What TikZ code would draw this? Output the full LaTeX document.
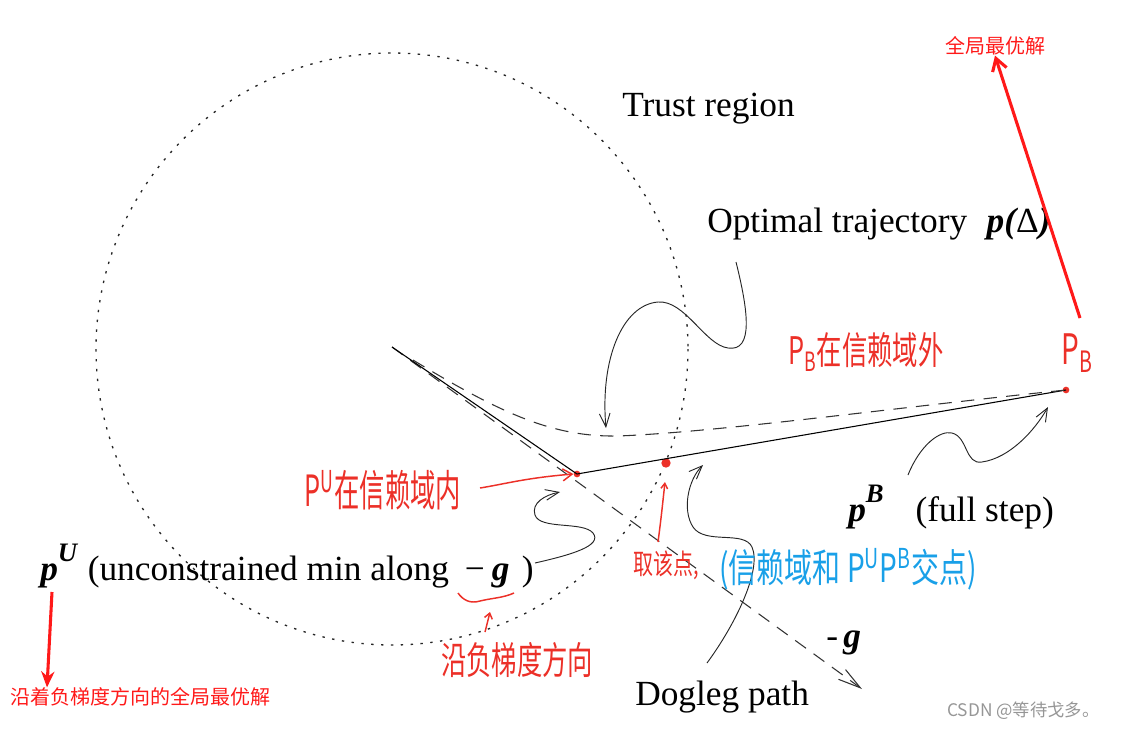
\documentclass[tikz,border=0pt]{standalone}
\usepackage{fontspec}
\setmainfont{Liberation Serif}
\newfontfamily\cjk{Noto Sans CJK SC}
\usetikzlibrary{arrows.meta}
\definecolor{hred}{RGB}{236,48,40}
\definecolor{hblue}{RGB}{25,160,232}
\definecolor{pred}{RGB}{255,25,25}
\definecolor{wmgray}{RGB}{150,150,150}
\newcommand\bip{\bfseries\itshape}
\tikzset{
  txt/.style={font=\fontsize{26.5}{30}\selectfont, inner sep=0pt, anchor=base west},
  hand/.style={font=\cjk\fontsize{19}{22}\selectfont, text=hred, inner sep=0pt},
  handblue/.style={font=\cjk\fontsize{21}{24}\selectfont, text=hblue, inner sep=0pt},
  printred/.style={font=\cjk\fontsize{15}{18}\selectfont, text=pred, inner sep=0pt},
  trustcircle/.style={line width=1pt, dash pattern=on 1.8pt off 5.6pt, black!85},
  pathline/.style={line width=0.8pt, black},
  dashline/.style={line width=0.8pt, black!80, dash pattern=on 10pt off 7pt},
  curvearrow/.style={line width=0.7pt, black!85, -{Straight Barb[length=10pt,width=8pt]}},
  redthick/.style={line width=2.3pt, pred},
  redthin/.style={line width=1.1pt, hred},
  reddot/.style={circle, fill=hred, inner sep=0pt, minimum size=5pt},
}
\begin{document}
\begin{tikzpicture}[x=0.75pt,y=-0.75pt]
\useasboundingbox (0,0) rectangle (1122,729);

% trust region circle
\coordinate (C) at (392,349);
\draw[trustcircle] (C) circle (296);

% key points
\coordinate (S) at (392,347);
\node[reddot] (PU) at (577,474) {};
\node[reddot, minimum width=4.5pt, minimum height=7pt] (X) at (666,463) {};
\node[reddot] (PB) at (1066,390) {};
\coordinate (G) at (862,689);
\coordinate (T0) at (413,360);

% steepest descent direction (-g)
\draw[dashline, -{Straight Barb[length=17pt,width=9pt]}] (S) -- (G);
% dogleg path
\draw[pathline] (S) -- (PU.center) -- (PB.center);
% optimal trajectory
\draw[dashline] (T0) .. controls (505,416) and (555,437) .. (618,436)
  .. controls (720,432) and (900,407) .. (PB.center);

% texts
\node[txt] (trust) at (622,116) {Trust region};
\node[txt] (opt) at (707,232) {Optimal trajectory\hspace{0.55em}{\bip p(}Δ{\bip )}};
\node[txt] (pu) at (40,580) {{\bip p\raisebox{14pt}{\fontsize{20}{20}\selectfont U}}\hspace{0.3em}(unconstrained min along\hspace{0.45em}−\hspace{0.2em}{\bip g}\hspace{0.35em})};
\node[txt] (pb) at (848,521) {{\bip p\raisebox{14pt}{\fontsize{20}{20}\selectfont B}}\hspace{0.9em}(full step)};
\node[txt] (mg) at (826,647) {-\hspace{0.15em}{\bip g}};
\node[txt] (dog) at (635,705) {Dogleg path};

% curved pointer arrows
\coordinate (a1) at (736,262);
\coordinate (a1e) at (606,428);
\draw[curvearrow] (a1) .. controls (748,310) and (754,352) .. (728,348)
  .. controls (705,345) and (685,300) .. (658,302)
  .. controls (622,305) and (600,360) .. (a1e);
\coordinate (a2) at (535,563);
\coordinate (a2e) at (560,492);
\draw[curvearrow] (a2) .. controls (570,555) and (603,546) .. (593,533)
  .. controls (583,521) and (540,530) .. (535,515)
  .. controls (531,503) and (545,495) .. (a2e);
\coordinate (a3) at (707,663);
\coordinate (a3e) at (703,465);
\draw[curvearrow] (a3) .. controls (735,625) and (762,570) .. (752,547)
  .. controls (744,530) and (705,545) .. (693,527)
  .. controls (682,510) and (688,480) .. (a3e);
\coordinate (a4) at (908,475);
\coordinate (a4e) at (1048,407);
\draw[curvearrow] (a4) .. controls (920,445) and (940,430) .. (952,433)
  .. controls (968,437) and (965,465) .. (982,462)
  .. controls (1010,458) and (1035,430) .. (a4e);

% printed red annotations
\node[printred] (glob) at (995,46) {全局最优解};
\node[printred, anchor=west] (globg) at (10,697) {沿着负梯度方向的全局最优解};
\coordinate (r1) at (1080,318);
\draw[redthick, -{Straight Barb[length=9pt,width=11pt,line width=2.3pt]}] (r1) -- (glob.south);
\coordinate (r2) at (52,592);
\draw[redthick, -{Stealth[length=12pt,width=10pt]}] (r2) -- (globg.north -| 47,0);

% handwritten annotations
\node[hand] (hpb) at (866,352) {\scalebox{1}[1.5]{P\textsubscript{B}在信赖域外}};
\node[hand, font=\cjk\fontsize{21}{24}\selectfont] (hpb2) at (1077,353) {\scalebox{1}[1.5]{P\textsubscript{B}}};
\node[hand] (hpu) at (383,490) {\scalebox{1}[1.7]{P\textsuperscript{U}在信赖域内}};
\node[hand, font=\cjk\fontsize{15}{18}\selectfont] (hq) at (666,565) {\scalebox{1}[1.4]{取该点,}};
\node[handblue] (hqb) at (848,569) {\scalebox{1}[1.4]{(信赖域和 P\textsuperscript{U}P\textsuperscript{B}交点)}};
\node[hand] (hg) at (517,660) {\scalebox{1}[1.5]{沿负梯度方向}};

\coordinate (h1) at (480,488);
\draw[redthin, -{Straight Barb[length=7pt,width=9pt]}] (h1) .. controls (505,484) and (525,478) .. (PU.west);
\coordinate (h2) at (485,632);
\coordinate (h2e) at (490,612);
\draw[redthin, -{Straight Barb[length=4pt,width=6pt]}] (h2) -- (h2e);
\coordinate (h3) at (658,542);
\draw[redthin, -{Straight Barb[length=4pt,width=5pt]}] (h3) .. controls (661,520) and (663,500) .. (665,482);
\coordinate (b1) at (458,593);
\coordinate (b2) at (514,593);
\draw[redthin] (b1) .. controls (463,600) and (470,604) .. (480,601)
  .. controls (492,598) and (503,598) .. (b2);

% watermark
\node[font=\cjk\fontsize{13}{15}\selectfont, text=wmgray, inner sep=0pt, anchor=west] (wm) at (947,711) {CSDN @等待戈多。};
\end{tikzpicture}
\end{document}
